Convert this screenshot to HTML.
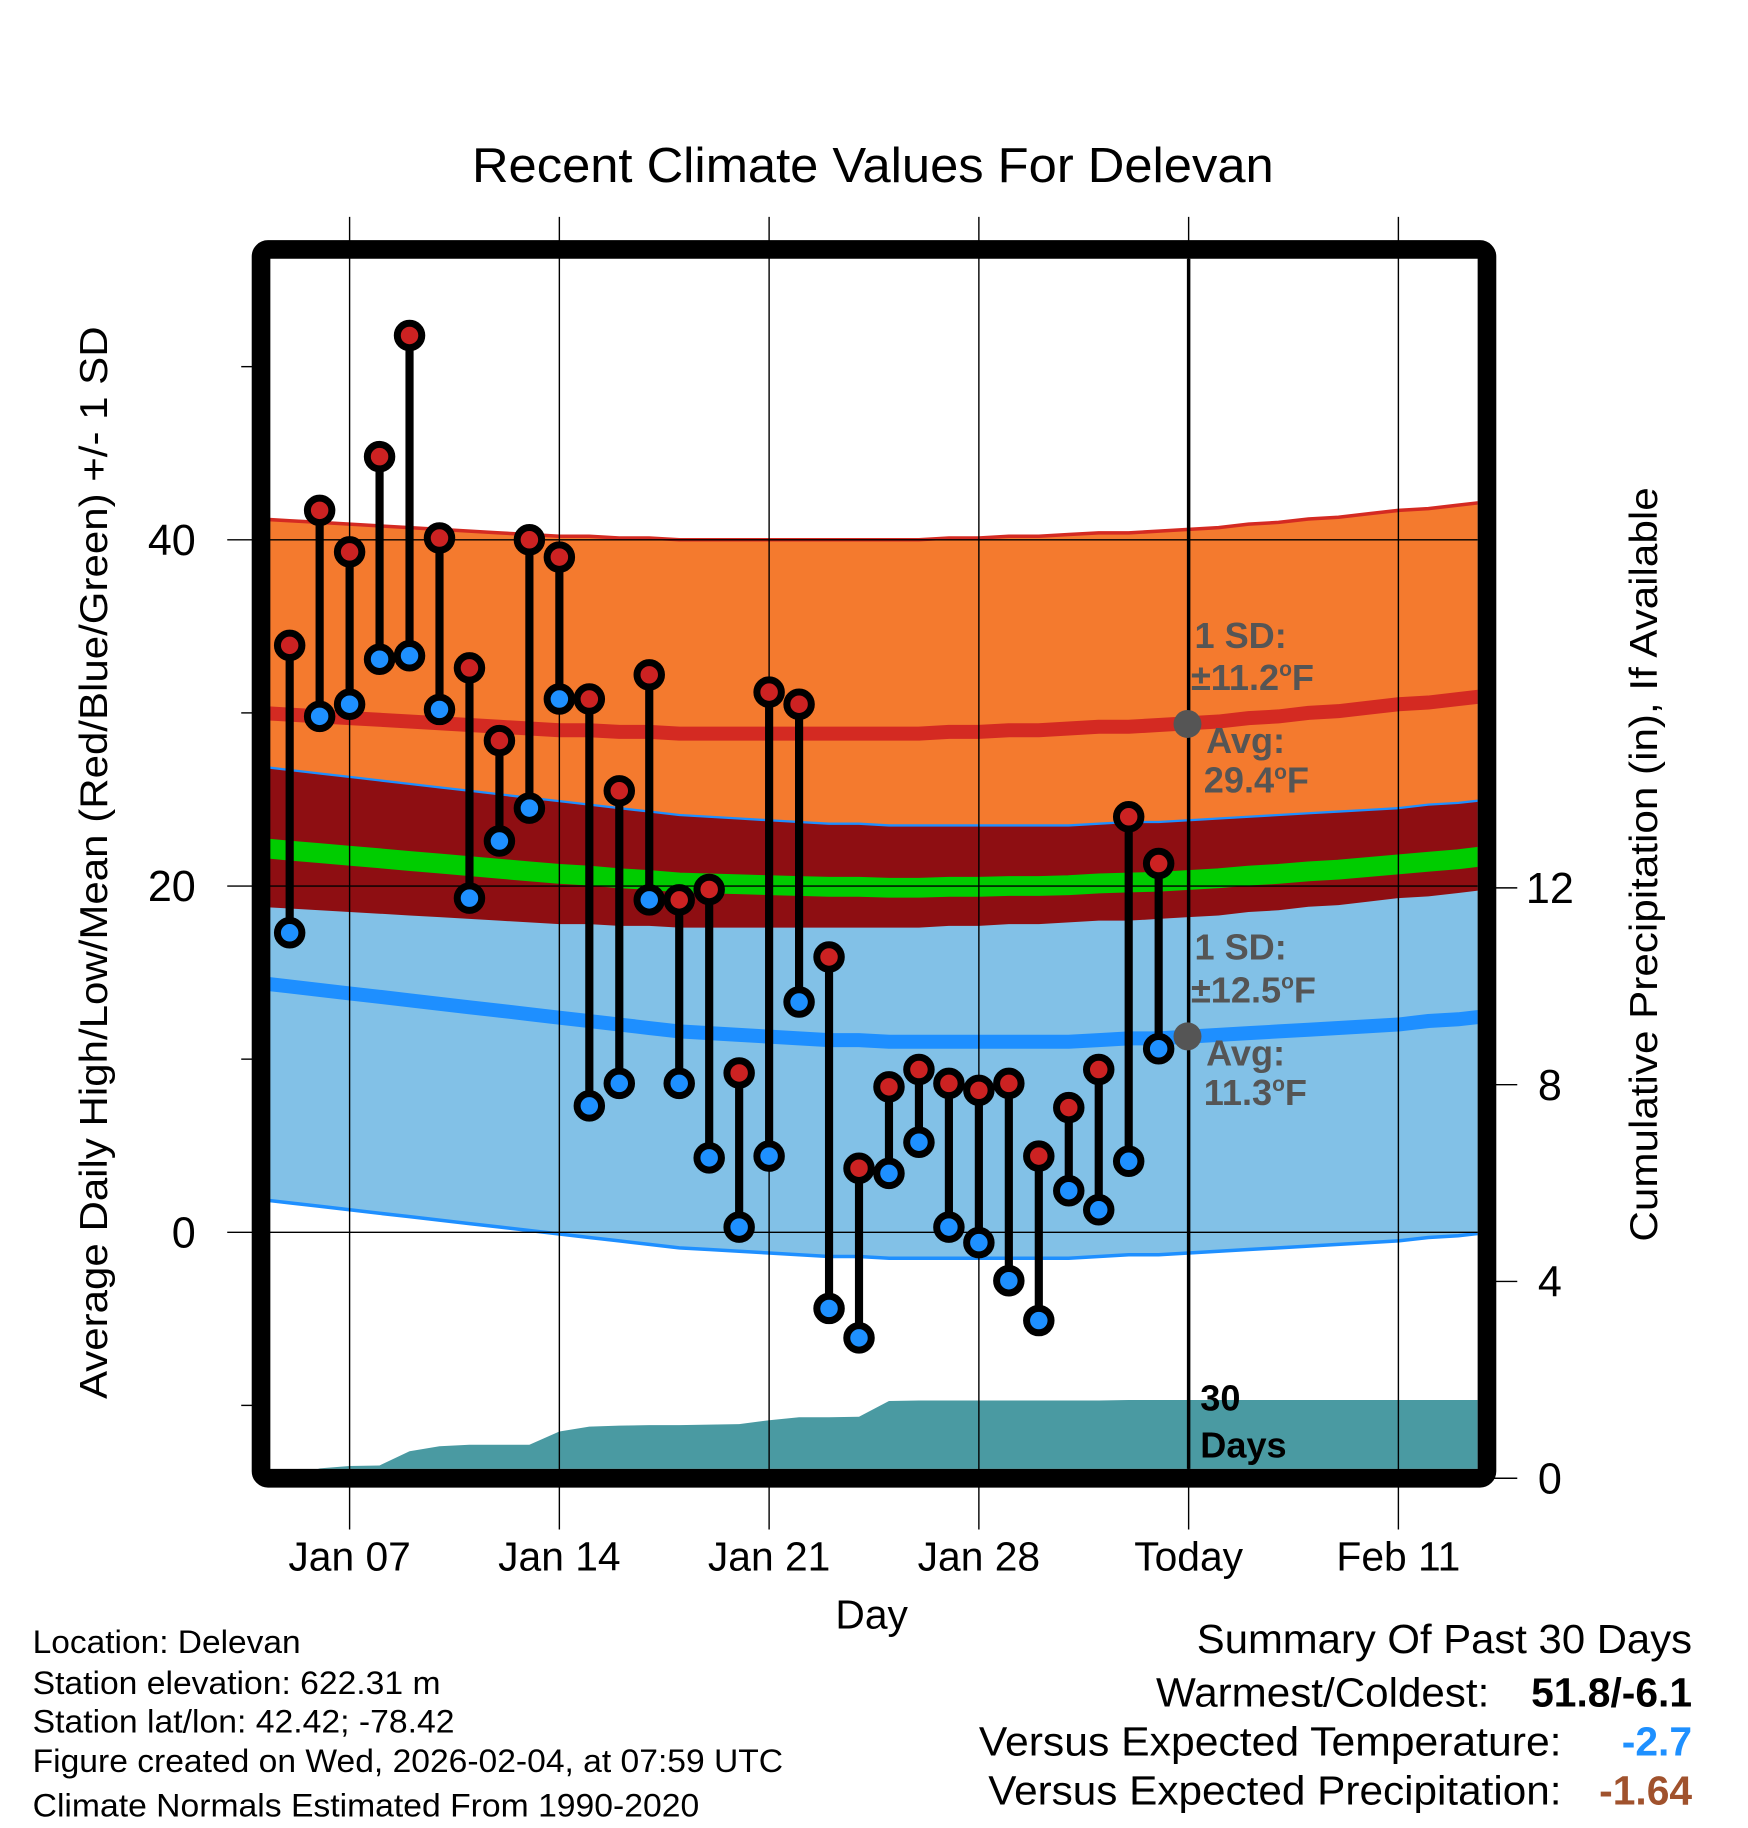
<!DOCTYPE html>
<html><head><meta charset="utf-8"><style>
html,body{margin:0;padding:0;background:#fff;}
svg{display:block;font-family:"Liberation Sans",Arial,sans-serif;}
</style></head><body>
<svg id="chart" width="1748" height="1828" viewBox="0 0 1500 1568" preserveAspectRatio="none" xmlns="http://www.w3.org/2000/svg">
<defs><clipPath id="plotclip"><rect x="231" y="222" width="1037" height="1038"/></clipPath></defs>
<rect x="0" y="0" width="1500" height="1568" fill="#fff"/>
<text x="405" y="156" font-size="42" textLength="688" lengthAdjust="spacingAndGlyphs">Recent Climate Values For Delevan</text>
<g id="bands" clip-path="url(#plotclip)"></g>
<g id="grid"></g>
<g id="marks"></g>
<g id="annot">
<circle cx="1019" cy="621" r="12" fill="#555"/>
<circle cx="1019" cy="889" r="12" fill="#555"/>
<g font-size="31" font-weight="bold" fill="#555">
<text x="1025" y="556">1 SD:</text>
<text x="1022" y="592">±11.2<tspan dy="-12" font-size="18">o</tspan><tspan dy="12">F</tspan></text>
<text x="1035" y="646">Avg:</text>
<text x="1033" y="680">29.4<tspan dy="-12" font-size="18">o</tspan><tspan dy="12">F</tspan></text>
<text x="1025" y="823">1 SD:</text>
<text x="1022" y="860">±12.5<tspan dy="-12" font-size="18">o</tspan><tspan dy="12">F</tspan></text>
<text x="1035" y="914">Avg:</text>
<text x="1033" y="948">11.3<tspan dy="-12" font-size="18">o</tspan><tspan dy="12">F</tspan></text>
</g>
<g font-size="31" font-weight="bold" fill="#000">
<text x="1030" y="1210">30</text>
<text x="1030" y="1250">Days</text>
</g>
</g>
<rect x="224" y="214" width="1052" height="1054" rx="6" fill="none" stroke="#000" stroke-width="16"/>
<g id="axes"></g>
<text transform="translate(92,1200) rotate(-90)" font-size="33" textLength="920" lengthAdjust="spacingAndGlyphs">Average Daily High/Low/Mean (Red/Blue/Green) +/- 1 SD</text>
<text transform="translate(1422,1065) rotate(-90)" font-size="33" textLength="647" lengthAdjust="spacingAndGlyphs">Cumulative Precipitation (in), If Available</text>
<text x="748" y="1397" font-size="35" text-anchor="middle">Day</text>
<g font-size="28">
<text x="28" y="1418" textLength="230" lengthAdjust="spacingAndGlyphs">Location: Delevan</text>
<text x="28" y="1453" textLength="350" lengthAdjust="spacingAndGlyphs">Station elevation: 622.31 m</text>
<text x="28" y="1486" textLength="362" lengthAdjust="spacingAndGlyphs">Station lat/lon: 42.42; -78.42</text>
<text x="28" y="1520" textLength="644" lengthAdjust="spacingAndGlyphs">Figure created on Wed, 2026-02-04, at 07:59 UTC</text>
<text x="28" y="1558" textLength="572" lengthAdjust="spacingAndGlyphs">Climate Normals Estimated From 1990-2020</text>
</g>
<g font-size="35">
<text x="1027" y="1418" textLength="425" lengthAdjust="spacingAndGlyphs">Summary Of Past 30 Days</text>
<text x="992" y="1464" textLength="286" lengthAdjust="spacingAndGlyphs">Warmest/Coldest:</text>
<text x="1452" y="1464" font-weight="bold" text-anchor="end">51.8/-6.1</text>
<text x="840" y="1506" textLength="500" lengthAdjust="spacingAndGlyphs">Versus Expected Temperature:</text>
<text x="1452" y="1506" font-weight="bold" fill="#1e90ff" text-anchor="end">-2.7</text>
<text x="848" y="1548" textLength="492" lengthAdjust="spacingAndGlyphs">Versus Expected Precipitation:</text>
<text x="1452" y="1548" font-weight="bold" fill="#a0522d" text-anchor="end">-1.64</text>
</g>
</svg>
<script>
// Daily observations, Jan 05 .. Feb 03 (day offset from Jan 07)
const obsDays = [-2,-1,0,1,2,3,4,5,6,7,8,9,10,11,12,13,14,15,16,17,18,19,20,21,22,23,24,25,26,27];
const highs = [33.9,41.7,39.3,44.8,51.8,40.1,32.6,28.4,40.0,39.0,30.8,25.5,32.2,19.2,19.8,9.2,31.2,30.5,15.9,3.7,8.4,9.4,8.6,8.2,8.6,4.4,7.2,9.4,24.0,21.3];
const lows = [17.3,29.8,30.5,33.1,33.3,30.2,19.3,22.6,24.5,30.8,7.3,8.6,19.2,8.6,4.3,0.3,4.4,13.3,-4.4,-6.1,3.4,5.2,0.3,-0.6,-2.8,-5.1,2.4,1.3,4.1,10.6];
const precipCum = [0,0.2,0.25,0.26,0.55,0.65,0.68,0.68,0.68,0.95,1.05,1.07,1.08,1.08,1.09,1.1,1.18,1.24,1.24,1.25,1.57,1.58,1.58,1.58,1.58,1.58,1.58,1.58,1.59,1.59];
// Normals, Jan 04 .. Feb 14 (day offset from Jan 07 starting at -3)
const normStart = -3;
const normHigh = [30.0,29.9,29.8,29.7,29.6,29.5,29.4,29.3,29.2,29.1,29.0,29.0,28.9,28.9,28.8,28.8,28.8,28.8,28.8,28.8,28.8,28.8,28.8,28.9,28.9,29.0,29.0,29.1,29.2,29.2,29.3,29.4,29.5,29.7,29.8,30.0,30.1,30.3,30.5,30.6,30.8,31.0];
const normLow = [14.4,14.2,14.0,13.8,13.6,13.4,13.2,13.0,12.8,12.6,12.4,12.2,12.0,11.8,11.6,11.5,11.4,11.3,11.2,11.1,11.1,11.0,11.0,11.0,11.0,11.0,11.0,11.0,11.1,11.2,11.2,11.3,11.4,11.5,11.6,11.7,11.8,11.9,12.0,12.2,12.3,12.5];
const sdHigh = 11.2;
const sdLow = 12.5;
const tempTicks = [0,20,40];
const tempMinor = [-10,10,30,50];
const precipTicks = [0,4,8,12];
const xTickDays = [0,7,14,21,28,35];
const xTickLabels = ["Jan 07","Jan 14","Jan 21","Jan 28","Today","Feb 11"];
const todayDay = 28;

const NS = "http://www.w3.org/2000/svg";
const xDay = d => 300 + d * 25.714;
const yT = v => 1057 - v * 14.85;
const yP = p => 1268 - p * 42.2;
function mk(tag, attrs, parent) {
  const e = document.createElementNS(NS, tag);
  for (const k in attrs) e.setAttribute(k, attrs[k]);
  parent.appendChild(e);
  return e;
}
const bands = document.getElementById('bands');
const grid = document.getElementById('grid');
const marks = document.getElementById('marks');
const axes = document.getElementById('axes');

const nx = normHigh.map((_, i) => xDay(normStart + i));
const line = arr => arr.map((v, i) => nx[i].toFixed(1) + ',' + yT(v).toFixed(1)).join(' ');
const band = (top, bot) => top.map((v, i) => nx[i] + ',' + yT(v)).concat(bot.map((v, i) => nx[i] + ',' + yT(v)).reverse()).join(' ');
const hiTop = normHigh.map(v => v + sdHigh), hiBot = normHigh.map(v => v - sdHigh);
const loTop = normLow.map(v => v + sdLow), loBot = normLow.map(v => v - sdLow);
const mean = normHigh.map((v, i) => (v + normLow[i]) / 2);

let e;
e = mk('polygon', {points: band(hiTop, hiBot), fill: '#f47a2e'}, bands);


e = mk('polygon', {points: band(loTop, loBot), fill: '#82c1e7'}, bands);


e = mk('polygon', {points: band(loTop, hiBot), fill: '#8e0e12'}, bands);


e = mk('polyline', {points: line(hiTop), fill: 'none', stroke: '#d42a22', 'stroke-width': 3}, bands);


e = mk('polyline', {points: line(loTop), fill: 'none', stroke: '#1e8fff', 'stroke-width': 2}, bands);


e = mk('polyline', {points: line(loBot), fill: 'none', stroke: '#1e8fff', 'stroke-width': 3}, bands);


e = mk('polyline', {points: line(mean), fill: 'none', stroke: '#00cc00', 'stroke-width': 17}, bands);


e = mk('polyline', {points: line(normHigh), fill: 'none', stroke: '#d42a22', 'stroke-width': 12}, bands);


e = mk('polyline', {points: line(normLow), fill: 'none', stroke: '#1e8fff', 'stroke-width': 12}, bands);



// precipitation area
let pts = [xDay(obsDays[0]) + ',' + yP(0)];
precipCum.forEach((p, i) => pts.push(xDay(obsDays[i]) + ',' + yP(p)));
pts.push('1270,' + yP(precipCum[precipCum.length - 1]));
pts.push('1270,' + yP(0));
e = mk('polygon', {points: pts.join(' '), fill: '#4a9aa2'}, bands);



// grid
xTickDays.forEach((d, i) => {
  const g = mk('line', {x1: xDay(d), x2: xDay(d), y1: 186, y2: 1312, stroke: '#000', 'stroke-width': 1.2}, grid);
  
  
  const t = mk('text', {x: xDay(d), y: 1347, 'font-size': 35, 'text-anchor': 'middle'}, axes);
  t.textContent = xTickLabels[i];
  
  
});
tempTicks.forEach(v => {
  const g = mk('line', {x1: 195, x2: 1268, y1: yT(v), y2: yT(v), stroke: '#000', 'stroke-width': 1.2}, grid);
  
  
  const t = mk('text', {x: 168, y: yT(v) + 13, 'font-size': 37, 'text-anchor': 'end'}, axes);
  t.textContent = v;
  
  
});
tempMinor.forEach(v => {
  const g = mk('line', {x1: 207, x2: 218, y1: yT(v), y2: yT(v), stroke: '#000', 'stroke-width': 1.2}, axes);
  
  
});
precipTicks.forEach(p => {
  const g = mk('line', {x1: 1282, x2: 1302, y1: yP(p), y2: yP(p), stroke: '#000', 'stroke-width': 1.2}, axes);
  
  
  const t = mk('text', {x: 1330, y: yP(p) + 13, 'font-size': 37, 'text-anchor': 'middle'}, axes);
  t.textContent = p;
  
  
});
e = mk('line', {x1: xDay(todayDay), x2: xDay(todayDay), y1: 222, y2: 1260, stroke: '#000', 'stroke-width': 3}, grid);



// observations
obsDays.forEach((d, i) => {
  const x = xDay(d);
  const s = mk('line', {x1: x, x2: x, y1: yT(highs[i]), y2: yT(lows[i]), stroke: '#000', 'stroke-width': 7}, marks);
  
  
  const h = mk('circle', {cx: x, cy: yT(highs[i]), r: 10.5, fill: '#cc2222', stroke: '#000', 'stroke-width': 6}, marks);
  
  
  const l = mk('circle', {cx: x, cy: yT(lows[i]), r: 10.5, fill: '#1e90ff', stroke: '#000', 'stroke-width': 6}, marks);
  
  
});
</script>
</body></html>
